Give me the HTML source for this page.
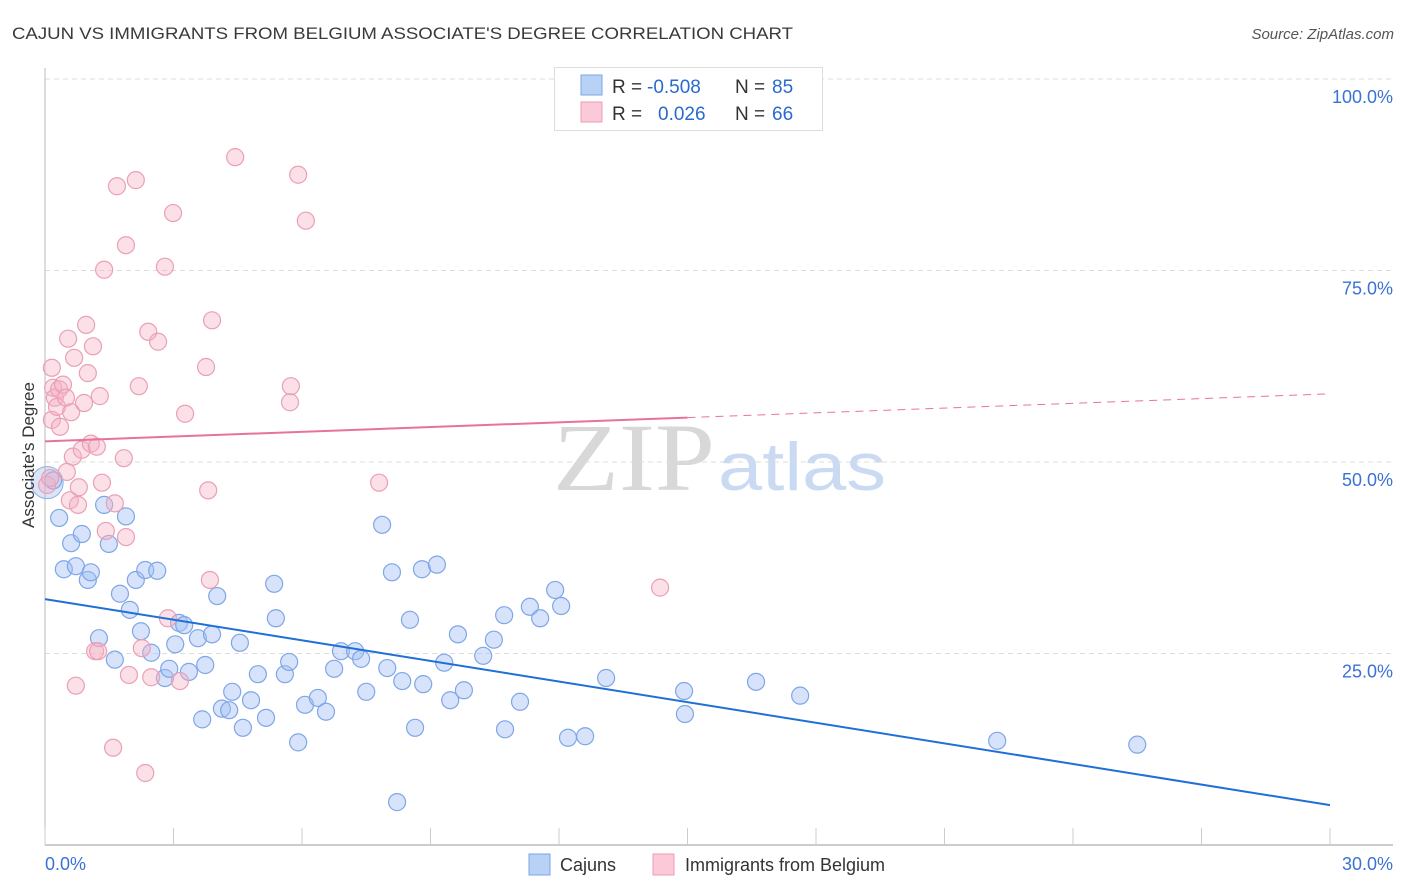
<!DOCTYPE html>
<html><head><meta charset="utf-8">
<style>
body{margin:0;background:#fff;}
svg{display:block;font-family:"Liberation Sans",sans-serif;}
</style></head>
<body>
<svg id="chart" width="1406" height="892" viewBox="0 0 1406 892" xmlns="http://www.w3.org/2000/svg">
<text x="12" y="39" font-size="17" fill="#3a3a3a" textLength="781" lengthAdjust="spacingAndGlyphs">CAJUN VS IMMIGRANTS FROM BELGIUM ASSOCIATE'S DEGREE CORRELATION CHART</text>
<text x="1394" y="39" font-size="15" fill="#555" font-style="italic" text-anchor="end">Source: ZipAtlas.com</text>
<g>
<text x="553" y="490" font-size="96" font-family="Liberation Serif,serif" fill="#d8d8d8" textLength="162" lengthAdjust="spacingAndGlyphs">ZIP</text>
<text x="718" y="490" font-size="68" fill="#c9daf2" textLength="168" lengthAdjust="spacingAndGlyphs">atlas</text>
</g>
<g id="grid"></g>
<g id="axes"></g>
<g id="pts"></g>
<g id="lines"></g>
<text transform="translate(34,455) rotate(-90)" font-size="17" fill="#333" text-anchor="middle">Associate's Degree</text>
<g>
<rect x="554.5" y="67.5" width="268" height="63" fill="#fff" stroke="#ddd"/>
<rect x="581" y="75" width="21" height="20" fill="#b8d2f6" stroke="#7aa6e4"/>
<rect x="581" y="102" width="21" height="20" fill="#fbc9d8" stroke="#ee9db6"/>
<text x="612" y="93" font-size="19" fill="#333">R = </text><text x="647" y="93" font-size="19" fill="#2a6ad0">-0.508</text>
<text x="735" y="93" font-size="19" fill="#333">N = </text><text x="772" y="93" font-size="19" fill="#2a6ad0">85</text>
<text x="612" y="120" font-size="19" fill="#333">R = </text><text x="658" y="120" font-size="19" fill="#2a6ad0">0.026</text>
<text x="735" y="120" font-size="19" fill="#333">N = </text><text x="772" y="120" font-size="19" fill="#2a6ad0">66</text>
</g>
<g>
<rect x="529" y="854" width="21" height="21" fill="#b8d2f6" stroke="#7aa6e4"/>
<text x="560" y="871" font-size="18" fill="#333">Cajuns</text>
<rect x="653" y="854" width="21" height="21" fill="#fbc9d8" stroke="#ee9db6"/>
<text x="685" y="871" font-size="18" fill="#333">Immigrants from Belgium</text>
</g>
</svg>
<script>
const yTicks=[25,50,75,100];
const yTickLabels=["25.0%","50.0%","75.0%","100.0%"];
const xTickVals=[0,3,6,9,12,15,18,21,24,27,30];
const cajunX=[0.19,0.33,0.61,0.44,0.72,0.86,1.00,1.07,1.26,1.38,1.49,1.63,1.75,1.89,1.98,2.12,2.24,2.34,2.48,2.62,2.80,2.90,3.04,3.13,3.25,3.36,3.57,3.67,3.74,3.90,4.02,4.13,4.30,4.37,4.62,4.55,4.81,4.97,5.16,5.35,5.39,5.60,5.70,5.91,6.07,6.37,6.56,6.75,6.91,7.24,7.38,7.50,7.87,7.99,8.10,8.34,8.22,8.52,8.64,8.83,8.80,9.15,9.32,9.46,9.64,9.78,10.23,10.48,10.74,10.72,11.09,11.32,11.56,11.91,12.05,12.21,12.61,13.10,14.92,14.94,16.60,17.63,22.23,25.50];
const cajunY=[47.6,42.7,39.4,36.0,36.4,40.6,34.6,35.6,27.0,44.4,39.3,24.2,32.8,42.9,30.7,34.6,27.9,35.9,25.1,35.8,21.8,23.0,26.2,29.0,28.7,22.6,27.0,16.4,23.5,27.5,32.5,17.8,17.6,20.0,15.3,26.4,18.9,22.3,16.6,34.1,29.6,22.3,23.9,13.4,18.3,19.2,17.4,23.0,25.3,25.3,24.3,20.0,41.8,23.1,35.6,21.4,5.6,29.4,15.3,21.0,36.0,36.6,23.8,18.9,27.5,20.2,24.7,26.8,15.1,30.0,18.7,31.1,29.6,33.3,31.2,14.0,14.2,21.8,20.1,17.1,21.3,19.5,13.6,13.1];
const belX=[0.05,0.12,0.16,0.16,0.19,0.23,0.28,0.33,0.35,0.42,0.49,0.51,0.54,0.58,0.61,0.65,0.68,0.72,0.77,0.79,0.86,0.91,0.96,1.00,1.07,1.12,1.17,1.24,1.21,1.28,1.33,1.38,1.42,1.59,1.63,1.68,1.84,1.89,1.89,1.96,2.12,2.19,2.26,2.34,2.41,2.48,2.64,2.80,2.87,2.99,3.15,3.27,3.76,3.81,3.85,3.90,4.44,5.91,6.09,5.74,5.72,7.80,14.36];
const belY=[47.0,47.9,62.3,55.5,59.7,58.4,57.2,59.5,54.6,60.1,58.4,48.7,66.1,45.0,56.5,50.7,63.6,20.8,44.4,46.7,51.6,57.7,67.9,61.6,52.4,65.1,25.3,25.3,52.0,58.6,47.3,75.1,41.0,12.7,44.6,86.0,50.5,78.3,40.2,22.2,86.8,59.9,25.7,9.4,67.0,21.9,65.7,75.5,29.6,82.5,21.4,56.3,62.4,46.3,34.6,68.5,89.8,87.5,81.5,59.9,57.8,47.3,33.6];
const cajunTrend=[32.1,5.2];
const belTrend=[52.7,58.9];
const NS="http://www.w3.org/2000/svg";
const X=v=>45+v/30*1285;
const Y=v=>845-v/100*766;
function mk(tag,attrs,parent){const e=document.createElementNS(NS,tag);for(const k in attrs)e.setAttribute(k,attrs[k]);document.getElementById(parent).appendChild(e);return e;}
yTicks.forEach((t,i)=>{
  const g=mk('line',{x1:45,x2:1393,y1:Y(t),y2:Y(t),stroke:'#dcdcdc','stroke-dasharray':'5,4'},'grid');
  
  
  const l=mk('text',{x:1393,y:Y(t)+24,'font-size':18,fill:'#3a72d4','text-anchor':'end'},'grid');
  l.textContent=yTickLabels[i];
  
  
});
const ax=mk('line',{x1:45,x2:45,y1:68,y2:845,stroke:'#bbb'},'axes');


const bx=mk('line',{x1:45,x2:1393,y1:845,y2:845,stroke:'#bbb','stroke-width':1.5},'axes');


xTickVals.forEach(v=>{
  const t=mk('line',{x1:X(v),x2:X(v),y1:828,y2:845,stroke:'#ccc'},'axes');
  
  
});
const x0=mk('text',{x:45,y:870,'font-size':18,fill:'#3a72d4'},'axes');x0.textContent='0.0%';


const x1=mk('text',{x:1393,y:870,'font-size':18,fill:'#3a72d4','text-anchor':'end'},'axes');x1.textContent='30.0%';


const big=mk('circle',{cx:X(0.05),cy:Y(47.3),r:16,fill:'rgba(150,180,235,0.35)',stroke:'#8fb0e8'},'pts');


cajunX.forEach((v,i)=>{
  const c=mk('circle',{cx:X(v),cy:Y(cajunY[i]),r:8.5,fill:'rgba(164,194,244,0.45)',stroke:'#7fa6e6','stroke-width':1.2},'pts');
  
  
});
belX.forEach((v,i)=>{
  const c=mk('circle',{cx:X(v),cy:Y(belY[i]),r:8.5,fill:'rgba(246,178,198,0.4)',stroke:'#eb9fb5','stroke-width':1.2},'pts');
  
  
});
const bl=mk('line',{x1:X(0),y1:Y(cajunTrend[0]),x2:X(30),y2:Y(cajunTrend[1]),stroke:'#1f6fd8','stroke-width':2},'lines');


const mid=belTrend[0]+(belTrend[1]-belTrend[0])*(15/30);
const pl=mk('line',{x1:X(0),y1:Y(belTrend[0]),x2:X(15),y2:Y(mid),stroke:'#e8739a','stroke-width':2},'lines');


const pd=mk('line',{x1:X(15),y1:Y(mid),x2:X(30),y2:Y(belTrend[1]),stroke:'#e8739a','stroke-width':1,'stroke-dasharray':'8,6'},'lines');


</script>
</body></html>
